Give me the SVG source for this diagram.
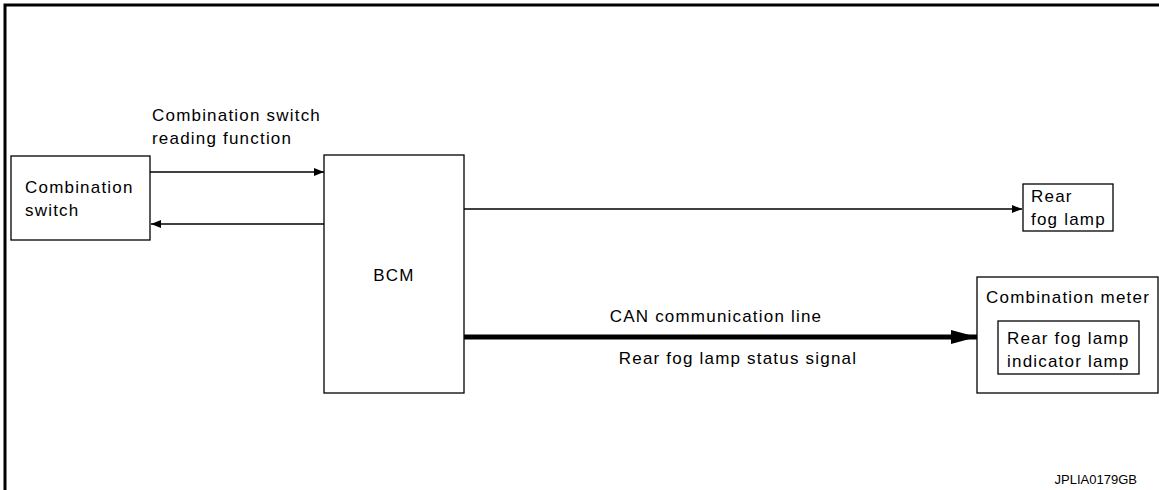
<svg xmlns="http://www.w3.org/2000/svg" width="1159" height="490" viewBox="0 0 1159 490">
<defs>
<style>
.box{fill:#fff;stroke:#000;stroke-width:1.3}
.t{font-family:"Liberation Sans",Arial,sans-serif;font-size:17px;letter-spacing:1.2px;fill:#000}
.ln{stroke:#000;stroke-width:1.3;fill:none}
</style>
<marker id="ah" markerWidth="10" markerHeight="8" refX="10" refY="4" orient="auto" markerUnits="userSpaceOnUse">
<path d="M0,0 L10,4 L0,8 Z" fill="#000"/>
</marker>
<marker id="ahb" markerWidth="26" markerHeight="14" refX="26" refY="7" orient="auto" markerUnits="userSpaceOnUse">
<path d="M0,0 L26,7 L0,14 Z" fill="#000"/>
</marker>
</defs>
<rect x="0" y="0" width="1159" height="490" fill="#fff"/>
<path d="M5,490 L5,5 L1159,5" fill="none" stroke="#000" stroke-width="3"/>

<g id="combination-switch">
<rect class="box" x="11" y="156" width="139" height="84"/>
<text class="t" x="25" y="193">Combination</text>
<text class="t" x="25" y="216">switch</text>
</g>

<g id="bcm">
<rect class="box" x="324" y="155" width="140" height="238"/>
<text class="t" x="394" y="281" text-anchor="middle">BCM</text>
</g>

<g id="rear-fog-lamp">
<rect class="box" x="1023" y="184" width="90" height="47"/>
<text class="t" x="1031" y="202">Rear</text>
<text class="t" x="1031" y="225">fog lamp</text>
</g>

<g id="combination-meter">
<rect class="box" x="977" y="277" width="181" height="116"/>
<text class="t" x="986" y="303">Combination meter</text>
<rect class="box" x="998" y="321" width="141" height="53"/>
<text class="t" x="1007" y="344">Rear fog lamp</text>
<text class="t" x="1007" y="367">indicator lamp</text>
</g>

<g id="connectors">
<line class="ln" x1="150" y1="172" x2="324" y2="172" marker-end="url(#ah)"/>
<line class="ln" x1="324" y1="224" x2="151" y2="224" marker-end="url(#ah)"/>
<line class="ln" x1="464" y1="209" x2="1022" y2="209" marker-end="url(#ah)"/>
<line x1="464" y1="337" x2="977" y2="337" stroke="#000" stroke-width="5" marker-end="url(#ahb)"/>
</g>

<g id="labels">
<text class="t" x="152" y="121">Combination switch</text>
<text class="t" x="152" y="144">reading function</text>
<text class="t" x="716" y="322" text-anchor="middle">CAN communication line</text>
<text class="t" x="738" y="364" text-anchor="middle">Rear fog lamp status signal</text>
<text x="1137" y="484" text-anchor="end" font-family="Liberation Sans,Arial,sans-serif" font-size="13" fill="#000">JPLIA0179GB</text>
</g>
</svg>
